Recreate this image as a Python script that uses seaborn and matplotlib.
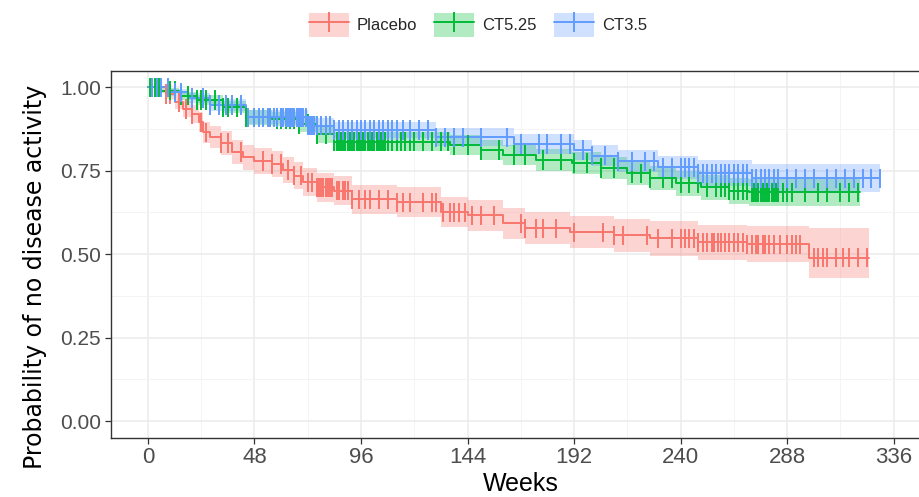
import numpy as np
import pandas as pd
import matplotlib
matplotlib.use("Agg")
import matplotlib.pyplot as plt
import seaborn as sns
from matplotlib.lines import Line2D
from matplotlib.patches import Patch

# ---------------- data ----------------
groups = ["Placebo", "CT5.25", "CT3.5"]
palette = {"Placebo": "#F8766D", "CT5.25": "#00BA38", "CT3.5": "#619CFF"}

placebo_t = [0, 8, 12, 16, 20, 23, 25, 28, 33, 38, 43, 48, 56, 61, 66, 70, 76, 84,
             92, 112, 132, 144, 160, 170, 190, 210, 226, 248, 270, 298]
placebo_s = [1.00, 0.98, 0.955, 0.935, 0.92, 0.895, 0.865, 0.85, 0.833, 0.806, 0.79,
             0.779, 0.77, 0.752, 0.735, 0.715, 0.70, 0.69, 0.664, 0.655, 0.626, 0.616,
             0.592, 0.578, 0.566, 0.556, 0.547, 0.536, 0.53, 0.49]
placebo_lo = [1.0, 0.965, 0.935, 0.91, 0.893, 0.865, 0.833, 0.817, 0.798, 0.77, 0.753,
              0.741, 0.731, 0.712, 0.694, 0.673, 0.657, 0.646, 0.62, 0.61, 0.58, 0.57,
              0.545, 0.53, 0.517, 0.506, 0.496, 0.484, 0.477, 0.43]
placebo_up = [1.0, 0.995, 0.975, 0.96, 0.947, 0.925, 0.897, 0.883, 0.868, 0.842, 0.827,
              0.817, 0.809, 0.792, 0.776, 0.757, 0.743, 0.734, 0.708, 0.70, 0.672, 0.662,
              0.639, 0.626, 0.615, 0.606, 0.598, 0.588, 0.583, 0.578]
placebo_end = 325
placebo_cens = [2, 4, 8, 10, 14, 17, 20, 24, 26, 33, 36, 42, 52, 56, 60, 63, 66, 69, 72,
                74, 76, 77, 78, 79, 80, 81, 82, 83, 85, 86, 88, 89, 90, 92, 95, 98, 100,
                104, 108, 112, 115, 118, 124, 128, 130, 133, 136, 138, 140, 143, 146,
                150, 156, 168, 170, 175, 178, 184, 192, 205, 210, 214, 225, 230, 236,
                240, 242, 244, 246, 248, 250, 252, 254, 255, 257, 258, 260, 262, 264,
                266, 268, 270, 272, 274, 275, 277, 278, 280, 282, 285, 288, 290, 292,
                294, 300, 302, 304, 306, 310, 313, 316, 320, 324]

ct525_t = [0, 6, 14, 22, 34, 44, 56, 68, 76, 84, 136, 150, 160, 175, 191, 204, 216, 226,
           238, 249, 262, 271]
ct525_s = [1.0, 0.99, 0.975, 0.962, 0.94, 0.91, 0.905, 0.89, 0.86, 0.837, 0.827, 0.812,
           0.797, 0.782, 0.773, 0.758, 0.743, 0.728, 0.712, 0.70, 0.69, 0.685]
ct525_lo = [1.0, 0.982, 0.963, 0.947, 0.922, 0.888, 0.883, 0.866, 0.834, 0.809, 0.798,
            0.782, 0.766, 0.75, 0.74, 0.724, 0.708, 0.692, 0.675, 0.662, 0.651, 0.645]
ct525_up = [1.0, 0.998, 0.987, 0.977, 0.958, 0.932, 0.927, 0.914, 0.886, 0.865, 0.856,
            0.842, 0.828, 0.814, 0.806, 0.792, 0.778, 0.764, 0.749, 0.738, 0.729, 0.725]
ct525_end = 321
ct525_cens = [1, 3, 5, 10, 12, 15, 18, 22, 24, 26, 30, 34, 36, 40, 44, 48, 52, 55, 58, 60,
              62, 64, 66, 68, 72, 76, 80, 84, 85, 86, 87, 88, 89, 90, 91, 92, 93, 94, 95,
              96, 97, 98, 99, 100, 101, 102, 103, 104, 105, 106, 107, 108, 110, 112, 114,
              116, 118, 120, 124, 128, 132, 135, 138, 144, 150, 158, 165, 170, 178, 186,
              192, 198, 204, 210, 218, 222, 226, 232, 236, 240, 244, 248, 252, 256, 258,
              260, 262, 264, 266, 268, 270, 272, 273, 274, 275, 276, 277, 278, 279, 280,
              281, 282, 283, 284, 286, 288, 290, 296, 302, 306, 312, 316, 320]

ct35_t = [0, 10, 18, 28, 44, 72, 84, 130, 165, 192, 200, 212, 230, 248, 272]
ct35_s = [1.0, 0.985, 0.968, 0.947, 0.91, 0.885, 0.872, 0.85, 0.83, 0.812, 0.795, 0.778,
          0.76, 0.743, 0.727]
ct35_lo = [1.0, 0.975, 0.954, 0.93, 0.889, 0.861, 0.847, 0.823, 0.801, 0.781, 0.763,
           0.745, 0.725, 0.705, 0.685]
ct35_up = [1.0, 0.995, 0.982, 0.964, 0.931, 0.909, 0.897, 0.877, 0.859, 0.843, 0.827,
           0.811, 0.795, 0.781, 0.77]
ct35_end = 330
ct35_cens = [2, 4, 6, 9, 12, 15, 20, 25, 28, 32, 35, 38, 42, 45, 48, 50, 52, 54, 55, 57,
             58, 60, 61, 62, 63, 64, 65, 66, 67, 68, 69, 70, 71, 72, 73, 74, 75, 76, 78,
             80, 82, 84, 86, 88, 90, 92, 94, 96, 98, 100, 102, 104, 106, 108, 110, 112,
             115, 118, 122, 126, 130, 134, 138, 142, 150, 162, 168, 176, 180, 186, 190,
             196, 200, 206, 212, 218, 224, 228, 232, 236, 240, 242, 244, 246, 248, 250,
             252, 254, 256, 258, 260, 262, 264, 266, 268, 270, 272, 274, 276, 278, 280,
             282, 284, 288, 292, 296, 300, 306, 310, 314, 318, 322, 326, 330]

x_ticks = [0, 48, 96, 144, 192, 240, 288, 336]
y_ticks = [0.00, 0.25, 0.50, 0.75, 1.00]
y_ticklabels = ["0.00", "0.25", "0.50", "0.75", "1.00"]
x_label = "Weeks"
y_label = "Probability of no disease activity"

series = {
    "Placebo": (placebo_t, placebo_s, placebo_lo, placebo_up, placebo_end, placebo_cens),
    "CT5.25": (ct525_t, ct525_s, ct525_lo, ct525_up, ct525_end, ct525_cens),
    "CT3.5": (ct35_t, ct35_s, ct35_lo, ct35_up, ct35_end, ct35_cens),
}

# ---------------- build tables ----------------
line_rows, band_rows, cens_rows = [], [], []
for g in groups:
    t, s, lo, up, end, cens = series[g]
    tt = list(t) + [end]
    for i, ti in enumerate(tt):
        j = min(i, len(s) - 1)
        line_rows.append((g, ti, s[j]))
        band_rows.append((g, ti, lo[j], up[j]))
    ta = np.asarray(t)
    for c in cens:
        idx = np.searchsorted(ta, c, side="right") - 1
        cens_rows.append((g, c, s[idx]))
lines = pd.DataFrame(line_rows, columns=["group", "time", "surv"])
bands = pd.DataFrame(band_rows, columns=["group", "time", "lo", "up"])
cens_df = pd.DataFrame(cens_rows, columns=["group", "time", "surv"])

# ---------------- plot ----------------
sns.set_theme(style="white")
plt.rcParams["font.family"] = ["Liberation Sans", "DejaVu Sans"]

fig = plt.figure(figsize=(9.2, 4.97), dpi=100)
ax = fig.add_axes([0.1203, 0.1193, 0.8916, 0.7386])

for g in groups:
    b = bands[bands.group == g]
    ax.fill_between(b.time, b.lo, b.up, step="post", color=palette[g], alpha=0.3,
                    linewidth=0, zorder=2)

sns.lineplot(data=lines, x="time", y="surv", hue="group", hue_order=groups,
             palette=palette, estimator=None, sort=False, drawstyle="steps-post",
             linewidth=1.4, legend=False, ax=ax, zorder=3)
sns.scatterplot(data=cens_df, x="time", y="surv", hue="group", hue_order=groups,
                palette=palette, marker="|", s=190, linewidth=1.4, legend=False,
                ax=ax, zorder=4)

ax.set_xlim(-16.8, 352.8)
ax.set_ylim(-0.05, 1.05)
ax.set_xticks(x_ticks)
ax.set_xticklabels([str(v) for v in x_ticks])
ax.set_yticks(y_ticks)
ax.set_yticklabels(y_ticklabels)
ax.set_xticks([24, 72, 120, 168, 216, 264, 312], minor=True)
ax.set_yticks([0.125, 0.375, 0.625, 0.875], minor=True)
ax.grid(which="major", color="#EBEBEB", linewidth=1.1, zorder=0)
ax.grid(which="minor", color="#F4F4F4", linewidth=0.7, zorder=0)
ax.set_axisbelow(True)
for sp in ax.spines.values():
    sp.set_color("#333333")
    sp.set_linewidth(1.0)
ax.tick_params(axis="both", which="major", length=4, width=0.9, color="#333333",
               labelcolor="#4D4D4D", labelsize=15, pad=3, bottom=True, left=True)
ax.tick_params(axis="x", which="major", labelsize=16)
ax.tick_params(axis="both", which="minor", length=0)
ax.set_xlabel("")
ax.set_ylabel("")

fig.text(521 / 920, 1 - 484 / 497, x_label, ha="center", va="center", fontsize=18,
         color="black")
fig.text(35 / 920, 1 - 277 / 497, y_label, ha="center", va="center", rotation=90,
         fontsize=17, color="black", family=["DejaVu Sans"])

handles = []
for g in groups:
    handles.append((Patch(facecolor=palette[g], alpha=0.3, edgecolor="none"),
                    Line2D([], [], color=palette[g], linewidth=1.4, marker="|",
                           markersize=14, markeredgewidth=1.4)))
fig.legend(handles, groups, loc="center", bbox_to_anchor=(478 / 920, 1 - 25 / 497),
           ncol=3, frameon=False, fontsize=12, handlelength=2.4, handleheight=1.8,
           handletextpad=0.5, columnspacing=1.0, borderpad=0.2)

fig.savefig("out.png", dpi=100)
